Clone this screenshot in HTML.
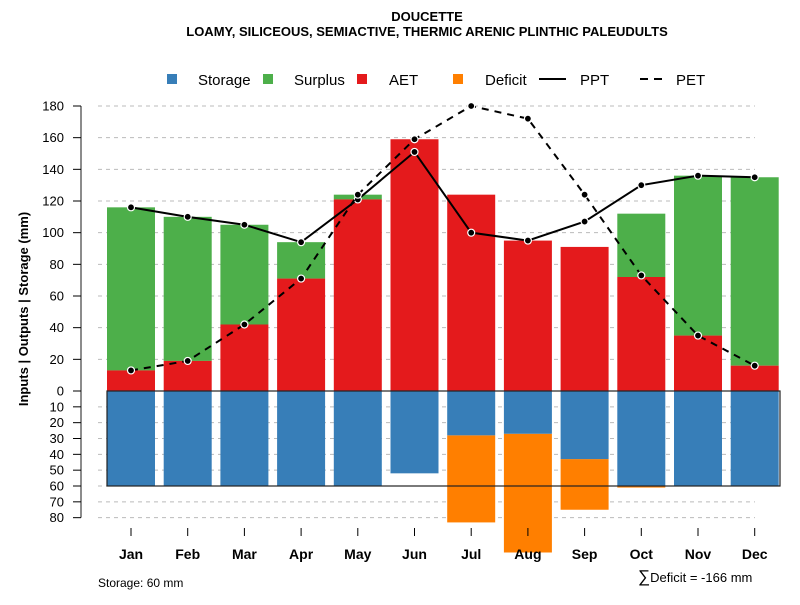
<!DOCTYPE html>
<html><head><meta charset="utf-8"><style>
body{margin:0;background:#fff;font-family:"Liberation Sans",Arial,sans-serif}
svg text{font-family:"Liberation Sans",Arial,sans-serif}
</style></head><body>
<svg id="c" width="800" height="600" xmlns="http://www.w3.org/2000/svg"></svg>
<script>
const months=["Jan","Feb","Mar","Apr","May","Jun","Jul","Aug","Sep","Oct","Nov","Dec"];
const aet=[13,19,42,71,121,159,124,95,91,72,35,16];
const surplusTop=[116,110,105,94,124,159,124,95,91,112,136,135];
const storage=[60,60,60,60,60,52,28,27,43,60,60,60];
const deficitBottom=[60,60,60,60,60,52,83,102,75,61,60,60];
const ppt=[116,110,105,94,121,151,100,95,107,130,136,135];
const pet=[13,19,42,71,124,159,180,172,124,73,35,16];
const upTicks=[0,20,40,60,80,100,120,140,160,180];
const lowTicks=[10,20,30,40,50,60,70,80];
const svg=document.getElementById('c');const NS="http://www.w3.org/2000/svg";
function mk(t,a,p){const e=document.createElementNS(NS,t);for(const k in a)e.setAttribute(k,a[k]);(p||svg).appendChild(e);return e;}
const y0=391,k=285/180;
const yU=v=>y0-v*k, yL=v=>y0+v*k;
const xC=i=>131+i*56.7, bw=48;
upTicks.forEach(v=>{if(v>0){const l=mk('line',{x1:98,x2:755,y1:yU(v),y2:yU(v),stroke:'#bbb','stroke-dasharray':'4,4'});}});
lowTicks.forEach(v=>{const l=mk('line',{x1:98,x2:755,y1:yL(v),y2:yL(v),stroke:'#bbb','stroke-dasharray':'4,4'});});
months.forEach((m,i)=>{
 const x=xC(i)-bw/2;
 let r=mk('rect',{x:x,y:yU(surplusTop[i]),width:bw,height:(surplusTop[i]-aet[i])*k,fill:'#4daf4a'});
 
 r=mk('rect',{x:x,y:yU(aet[i]),width:bw,height:aet[i]*k,fill:'#e41a1c'});
 
 r=mk('rect',{x:x,y:yL(storage[i]),width:bw,height:(deficitBottom[i]-storage[i])*k,fill:'#ff7f00'});
 
 r=mk('rect',{x:x,y:y0,width:bw,height:storage[i]*k,fill:'#377eb8'});
 
});
let bx=mk('rect',{x:107,y:y0,width:673,height:60*k,fill:'none',stroke:'#222','stroke-width':1.2});

function line(arr,dash,name){
 const p=mk('polyline',{points:arr.map((v,i)=>xC(i)+','+yU(v)).join(' '),fill:'none',stroke:'#000','stroke-width':2,'stroke-dasharray':dash});
 
 arr.forEach((v,i)=>{const c=mk('circle',{cx:xC(i),cy:yU(v),r:3.5,fill:'#000',stroke:'#fff','stroke-width':1.2});
 });
}
line(ppt,'none','ppt');line(pet,'7,6','pet');
let ax=mk('line',{x1:81,x2:81,y1:yU(180),y2:yL(80),stroke:'#666','stroke-width':1.5});

upTicks.forEach(v=>{mk('line',{x1:73,x2:81,y1:yU(v),y2:yU(v),stroke:'#000'});
 const t=mk('text',{x:64,y:yU(v)+4.5,'text-anchor':'end','font-size':13});t.textContent=v;
 });
lowTicks.forEach(v=>{mk('line',{x1:73,x2:81,y1:yL(v),y2:yL(v),stroke:'#000'});
 const t=mk('text',{x:64,y:yL(v)+4.5,'text-anchor':'end','font-size':13});t.textContent=v;
 });
months.forEach((m,i)=>{mk('line',{x1:xC(i),x2:xC(i),y1:528,y2:536,stroke:'#000'});
 const t=mk('text',{x:xC(i),y:559,'text-anchor':'middle','font-size':14,'font-weight':'bold'});t.textContent=m;
 });
</script>
<svg style="position:absolute;left:0;top:0" width="800" height="600">
<text x="427" y="21" text-anchor="middle" font-size="13" font-weight="bold">DOUCETTE</text>
<text x="427" y="36" text-anchor="middle" font-size="13" font-weight="bold">LOAMY, SILICEOUS, SEMIACTIVE, THERMIC ARENIC PLINTHIC PALEUDULTS</text>
<g font-size="15">
<rect x="167" y="74" width="10" height="10" fill="#377eb8"/><text x="198" y="85">Storage</text>
<rect x="263" y="74" width="10" height="10" fill="#4daf4a"/><text x="294" y="85">Surplus</text>
<rect x="357" y="74" width="10" height="10" fill="#e41a1c"/><text x="389" y="85">AET</text>
<rect x="453" y="74" width="10" height="10" fill="#ff7f00"/><text x="485" y="85">Deficit</text>
<line x1="539" x2="566" y1="79" y2="79" stroke="#000" stroke-width="2"/><text x="580" y="85">PPT</text>
<line x1="640" x2="668" y1="79" y2="79" stroke="#000" stroke-width="2" stroke-dasharray="8,6"/><text x="676" y="85">PET</text>
</g>
<text transform="translate(28,309) rotate(-90)" text-anchor="middle" font-size="13" font-weight="bold">Inputs | Outputs | Storage    (mm)</text>
<text x="98" y="587" font-size="12">Storage: 60 mm</text>
<text x="638" y="582" font-size="13"><tspan font-size="17">∑</tspan>Deficit = -166 mm</text>
</svg>
</body></html>
